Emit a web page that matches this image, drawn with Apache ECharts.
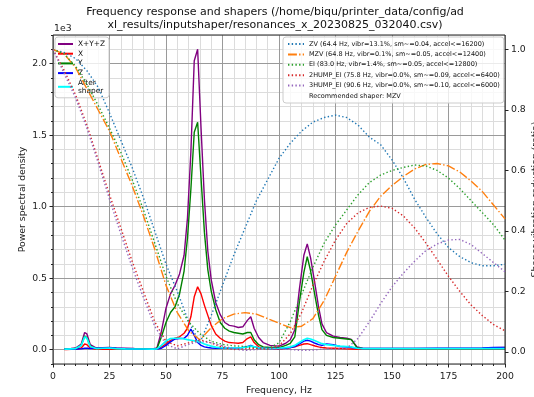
<!DOCTYPE html>
<html><head><meta charset="utf-8">
<script src="https://cdn.jsdelivr.net/npm/echarts@6/dist/echarts.min.js"></script>
<style>html,body{margin:0;padding:0;background:#fff}#c{width:534px;height:397px}</style>
</head><body><div id="c"></div>
<script>
const titleText = 'Frequency response and shapers (/home/biqu/printer_data/config/ad\nxl_results/inputshaper/resonances_x_20230825_032040.csv)';
const xName = 'Frequency, Hz';
const yLeftName = 'Power spectral density';
const yRightName = 'Shaper vibration reduction (ratio)';
const leftTicks = [0, 0.5, 1.0, 1.5, 2.0];
const rightTicks = [0, 0.2, 0.4, 0.6, 0.8, 1.0];

// PSD frequencies (Hz)
const freqs = [5,6,8,10,12.5,14,15,16.5,19,22,25,28,32,36,40,44,46,48,50,52,54,56,58,59.5,61,62.5,64,65.5,67,68.5,70,72,74,76,78,80,82,84,86,87.5,89,91,93,96,100,103,105,107,109,111,112.5,114,116,117.5,119,121,124,127,130,132,134.5,137,140,150,160,170,180,190,195,200];
const psdSum = [0.005,0.006,0.008,0.012,0.04,0.12,0.11,0.035,0.012,0.014,0.016,0.012,0.01,0.008,0.007,0.006,0.012,0.13,0.29,0.39,0.45,0.53,0.66,0.92,1.38,2.02,2.10,1.55,1.05,0.69,0.49,0.33,0.245,0.19,0.17,0.165,0.155,0.16,0.205,0.23,0.15,0.085,0.05,0.03,0.025,0.045,0.07,0.14,0.42,0.66,0.74,0.64,0.45,0.30,0.18,0.12,0.095,0.085,0.08,0.072,0.02,0.01,0.009,0.008,0.008,0.009,0.009,0.01,0.014,0.015];
const psdX = [0.001,0.001,0.002,0.003,0.012,0.04,0.035,0.012,0.003,0.003,0.003,0.002,0.002,0.002,0.002,0.002,0.004,0.02,0.04,0.065,0.08,0.09,0.115,0.15,0.23,0.37,0.44,0.39,0.31,0.24,0.17,0.11,0.08,0.06,0.05,0.048,0.045,0.05,0.078,0.09,0.05,0.02,0.01,0.005,0.005,0.01,0.015,0.02,0.03,0.04,0.042,0.035,0.026,0.02,0.015,0.012,0.01,0.008,0.006,0.005,0.003,0.002,0.002,0.002,0.002,0.002,0.002,0.002,0.002,0.002];
const psdY = [0.004,0.004,0.006,0.008,0.03,0.095,0.085,0.025,0.008,0.009,0.01,0.008,0.006,0.005,0.005,0.004,0.008,0.09,0.19,0.26,0.30,0.39,0.55,0.78,1.12,1.52,1.59,1.20,0.82,0.56,0.41,0.28,0.19,0.15,0.13,0.12,0.115,0.11,0.12,0.12,0.07,0.035,0.02,0.015,0.015,0.03,0.045,0.09,0.33,0.54,0.65,0.55,0.37,0.24,0.14,0.10,0.085,0.08,0.075,0.07,0.015,0.008,0.006,0.006,0.006,0.006,0.006,0.006,0.006,0.006];
const psdZ = [0.002,0.003,0.004,0.005,0.006,0.01,0.01,0.008,0.01,0.012,0.014,0.01,0.007,0.005,0.004,0.004,0.005,0.01,0.03,0.055,0.075,0.078,0.08,0.10,0.145,0.10,0.05,0.03,0.02,0.015,0.012,0.01,0.01,0.01,0.01,0.01,0.012,0.015,0.022,0.03,0.02,0.012,0.01,0.008,0.008,0.01,0.015,0.022,0.04,0.06,0.066,0.06,0.045,0.035,0.03,0.04,0.035,0.022,0.018,0.015,0.01,0.008,0.008,0.008,0.009,0.01,0.01,0.012,0.016,0.016];
const psdShaped = [0.004,0.004,0.006,0.008,0.03,0.09,0.08,0.022,0.008,0.01,0.012,0.008,0.006,0.005,0.005,0.004,0.006,0.03,0.06,0.078,0.08,0.08,0.075,0.07,0.066,0.062,0.058,0.05,0.04,0.032,0.025,0.018,0.015,0.013,0.012,0.012,0.012,0.014,0.02,0.025,0.02,0.013,0.01,0.008,0.01,0.014,0.02,0.03,0.05,0.07,0.08,0.075,0.062,0.052,0.042,0.036,0.03,0.025,0.022,0.02,0.01,0.007,0.007,0.007,0.007,0.007,0.007,0.007,0.007,0.007];

// Shaper response frequencies (Hz) and ratios
const shaperFreqs = [0,5,10,15,20,25,30,35,40,45,50,55,60,65,70,75,80,85,90,95,100,105,110,115,120,125,130,135,140,145,150,155,160,165,170,175,180,185,190,195,200];
const zvVals = [1.0,0.99,0.97,0.93,0.875,0.79,0.70,0.61,0.51,0.40,0.29,0.20,0.10,0.03,0.12,0.22,0.32,0.41,0.50,0.57,0.64,0.69,0.73,0.76,0.775,0.783,0.775,0.75,0.71,0.685,0.635,0.575,0.505,0.445,0.39,0.345,0.315,0.295,0.285,0.285,0.29];
const mzvVals = [1.0,0.985,0.94,0.87,0.80,0.73,0.64,0.55,0.45,0.34,0.22,0.13,0.07,0.04,0.08,0.11,0.125,0.13,0.125,0.11,0.095,0.08,0.085,0.11,0.17,0.25,0.33,0.40,0.465,0.515,0.55,0.58,0.605,0.62,0.623,0.615,0.595,0.565,0.53,0.485,0.44];
const eiVals = [1.0,0.985,0.945,0.885,0.815,0.74,0.66,0.57,0.47,0.36,0.25,0.16,0.10,0.06,0.035,0.025,0.02,0.018,0.012,0.01,0.03,0.10,0.19,0.28,0.36,0.42,0.47,0.52,0.56,0.585,0.60,0.61,0.618,0.615,0.60,0.575,0.54,0.50,0.46,0.42,0.37];
const hump2Vals = [1.0,0.93,0.85,0.75,0.635,0.52,0.41,0.30,0.20,0.10,0.035,0.02,0.03,0.04,0.03,0.015,0.008,0.01,0.012,0.01,0.02,0.06,0.13,0.22,0.30,0.37,0.425,0.46,0.478,0.482,0.475,0.45,0.41,0.36,0.305,0.25,0.20,0.155,0.12,0.09,0.07];
const hump3Vals = [1.0,0.92,0.84,0.74,0.625,0.505,0.39,0.28,0.18,0.085,0.025,0.01,0.025,0.035,0.03,0.02,0.01,0.005,0.008,0.01,0.01,0.008,0.005,0.006,0.01,0.01,0.012,0.045,0.10,0.16,0.215,0.26,0.30,0.335,0.357,0.37,0.372,0.355,0.325,0.295,0.265];

const psdNames = ['X+Y+Z', 'X', 'Y', 'Z', 'After shaper'];
const shaperNames = [
  'ZV (64.4 Hz, vibr=13.1%, sm~=0.04, accel<=16200)',
  'MZV (64.8 Hz, vibr=0.1%, sm~=0.05, accel<=12400)',
  'EI (83.0 Hz, vibr=1.4%, sm~=0.05, accel<=12800)',
  '2HUMP_EI (75.8 Hz, vibr=0.0%, sm~=0.09, accel<=6400)',
  '3HUMP_EI (90.6 Hz, vibr=0.0%, sm~=0.10, accel<=6000)'
];
const recommendedText = 'Recommended shaper: MZV';

const FONT = 'DejaVu Sans';
const zip = (xs, ys) => xs.map((x, i) => [x, ys[i]]);

const psdSeriesDefs = [
  [psdNames[0], psdSum, '#800080', 1.4],
  [psdNames[1], psdX, '#ff0000', 1.4],
  [psdNames[2], psdY, '#008000', 1.4],
  [psdNames[3], psdZ, '#0000ff', 1.4],
  [psdNames[4], psdShaped, '#00ffff', 1.7]
];
const shaperSeriesDefs = [
  [shaperNames[0], zvVals, '#1f77b4', [1.4, 2.3]],
  [shaperNames[1], mzvVals, '#ff7f0e', [8.9, 2.2, 1.4, 2.2]],
  [shaperNames[2], eiVals, '#2ca02c', [1.4, 2.3]],
  [shaperNames[3], hump2Vals, '#d62728', [1.4, 2.3]],
  [shaperNames[4], hump3Vals, '#9467bd', [1.4, 2.3]]
];

const series = [];
psdSeriesDefs.forEach(([name, vals, color, w]) => {
  series.push({
    type: 'line', name, data: zip(freqs, vals), xAxisIndex: 0, yAxisIndex: 0,
    symbol: 'none', showSymbol: false, color, z: 2,
    lineStyle: { color, width: w }
  });
});
shaperSeriesDefs.forEach(([name, vals, color, dash]) => {
  series.push({
    type: 'line', name, data: zip(shaperFreqs, vals), xAxisIndex: 0, yAxisIndex: 1,
    symbol: 'none', showSymbol: false, color, z: 4,
    lineStyle: { color, width: 1.4, type: dash, cap: 'butt' }
  });
});
series.push({
  type: 'line', name: recommendedText, data: [], yAxisIndex: 1, symbol: 'none',
  color: 'rgba(0,0,0,0)', lineStyle: { color: 'rgba(0,0,0,0)' }
});

const tickLabel = { fontSize: 9.3, color: '#222', fontFamily: FONT };
const nameStyle = { fontSize: 9.3, color: '#222', fontFamily: FONT };

const option = {
  animation: false,
  backgroundColor: '#fff',
  graphic: [
    { type: 'text', x: 275, y: 6, z: 10,
      style: { text: titleText, align: 'center', textAlign: 'center', verticalAlign: 'top', fontSize: 11, lineHeight: 13, fill: '#111', fontFamily: FONT } },
    { type: 'text', left: 54, top: 24, style: { text: '1e3', fontSize: 9.3, fill: '#222', fontFamily: FONT } }
  ],
  grid: { left: 53, right: 29, top: 35, bottom: 33, show: true, borderColor: '#222', borderWidth: 1, backgroundColor: 'rgba(0,0,0,0)', z: 3, outerBoundsMode: 'none', containLabel: false },
  legend: [
    {
      orient: 'vertical', left: 55, top: 37, data: psdNames, selectedMode: false,
      itemWidth: 15, itemHeight: 7, itemGap: 1.7, z: 3,
      itemStyle: { opacity: 0 },
      formatter: n => n === 'After shaper' ? 'After\nshaper' : n,
      textStyle: { fontSize: 7.4, lineHeight: 8, color: '#111', fontFamily: FONT },
      backgroundColor: 'rgba(255,255,255,0.8)', borderColor: '#ccc', borderWidth: 1, borderRadius: 3,
      padding: [3, 4, 3, 2]
    },
    {
      orient: 'vertical', left: 283, top: 37, data: shaperNames.concat([recommendedText]), selectedMode: false,
      itemWidth: 16, itemHeight: 7, itemGap: 2.4, z: 5,
      itemStyle: { opacity: 0 },
      textStyle: { fontSize: 6.5, lineHeight: 8, color: '#111', fontFamily: FONT },
      backgroundColor: 'rgba(255,255,255,0.8)', borderColor: '#ccc', borderWidth: 1, borderRadius: 3,
      padding: [3, 4, 3, 4]
    }
  ],
  xAxis: {
    type: 'value', min: 0, max: 200, interval: 25,
    axisLine: { show: false, onZero: false },
    axisTick: { show: true, length: 3.5, lineStyle: { color: '#222' } },
    minorTick: { show: true, splitNumber: 5, length: 2, lineStyle: { color: '#222' } },
    axisLabel: Object.assign({ margin: 8 }, tickLabel),
    splitLine: { show: true, lineStyle: { color: '#9a9a9a', width: 1 } },
    minorSplitLine: { show: true, lineStyle: { color: '#dcdcdc', width: 1 } },
    name: xName, nameLocation: 'middle', nameGap: 22, nameMoveOverlap: false, nameTextStyle: nameStyle
  },
  yAxis: [
    {
      type: 'value', min: -0.1, max: 2.2, position: 'left', z: 1,
      axisLine: { show: false, onZero: false },
      axisTick: { show: true, length: 3.5, customValues: leftTicks, lineStyle: { color: '#222' } },
      axisLabel: Object.assign({ margin: 6, customValues: leftTicks, formatter: v => Number(v).toFixed(1) }, tickLabel),
      splitLine: { show: true, lineStyle: { color: '#9a9a9a', width: 1 } },
      name: yLeftName, nameLocation: 'middle', nameGap: 26, nameRotate: 90, nameMoveOverlap: false, nameTextStyle: nameStyle
    },
    {
      type: 'value', min: -0.04, max: 1.048, position: 'right',
      axisLine: { show: false, onZero: false },
      axisTick: { show: true, length: 3.5, customValues: rightTicks, lineStyle: { color: '#222' } },
      axisLabel: Object.assign({ margin: 6, customValues: rightTicks, formatter: v => Number(v).toFixed(1) }, tickLabel),
      splitLine: { show: false },
      name: yRightName, nameLocation: 'middle', nameGap: 26, nameRotate: 90, nameMoveOverlap: false, nameTextStyle: nameStyle
    },
    {
      type: 'value', min: -0.1, max: 2.2, interval: 0.1, position: 'left', z: 0,
      axisLine: { show: false, onZero: false },
      axisTick: { show: true, length: 2, lineStyle: { color: '#222' } },
      axisLabel: { show: false },
      splitLine: { show: true, lineStyle: { color: '#dcdcdc', width: 1 } }
    }
  ],
  series
};
const chart = echarts.init(document.getElementById('c'), null, { renderer: 'canvas' });
chart.setOption(option);
</script></body></html>
